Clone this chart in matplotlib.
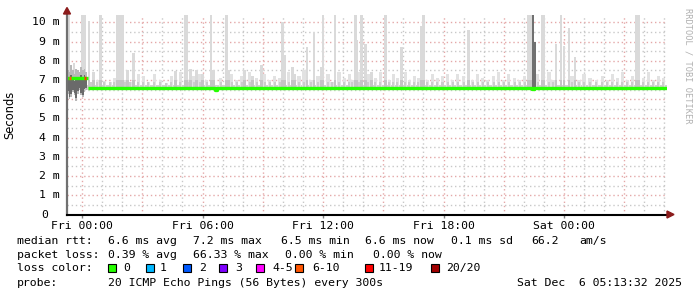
import matplotlib
matplotlib.use('Agg')
import matplotlib.pyplot as plt
from matplotlib.patches import Rectangle, Polygon
from matplotlib.transforms import blended_transform_factory

# ---------------- data (hours relative to Fri 00:00, values in ms) ----------------
x_range = [-0.75, 29.13]
y_max = 10.39

x_tick_hours = [0, 6, 12, 18, 24]
x_tick_labels = ["Fri 00:00", "Fri 06:00", "Fri 12:00", "Fri 18:00", "Sat 00:00"]
y_tick_values = [0, 1, 2, 3, 4, 5, 6, 7, 8, 9, 10]
y_tick_labels = ["0", "1 m", "2 m", "3 m", "4 m", "5 m", "6 m", "7 m", "8 m", "9 m", "10 m"]

# median rtt (step line)
median_hours = [-0.75, 0.28, 0.30, 6.55, 6.62, 6.70, 12.0, 16.9, 17.3, 22.43, 22.52, 29.13]
median_ms = [7.12, None, 6.57, 6.57, 6.48, 6.57, 6.58, 6.60, 6.58, 6.52, 6.58, 6.58]

# loss marks on the median line
loss_hours = [-0.60, 0.17]
loss_ms = [7.12, 7.12]
loss_cols = ["#ff5500", "#ff3300"]

# tall smoke spikes (tops of the ping spread)
spike_hours = [-0.72, -0.65, -0.40, -0.20, 0.0, 0.12, 0.35, 0.55, 0.90,
               1.75, 1.85, 2.02, 2.25, 2.55, 4.65,
               5.15, 5.22, 5.40, 5.70, 5.98, 6.42, 6.55, 7.2, 7.3,
               8.10, 8.5, 8.95, 10.0, 10.10, 10.5, 10.6,
               11.2, 11.55, 11.90, 12.0, 12.6,
               13.6, 13.65, 13.9, 14.1, 14.4, 15.1, 15.9,
               16.9, 17.0, 19.25, 22.25, 22.35, 22.95, 23.0,
               23.6, 23.85, 24.0, 24.25, 24.55, 27.6, 27.7]
spike_ms = [10.4, 10.4, 7.9, 7.5, 10.4, 10.4, 10.1, 7.4, 10.4,
            10.4, 10.4, 10.4, 7.5, 8.4, 7.45,
            10.4, 10.4, 7.6, 7.5, 7.3, 10.4, 7.5, 10.4, 7.5,
            7.5, 7.2, 7.8, 10.05, 8.3, 7.7, 7.3,
            8.7, 9.5, 7.7, 10.4, 10.4,
            10.4, 9.1, 10.4, 8.9, 7.4, 10.4, 8.7,
            9.8, 10.4, 9.6, 10.4, 10.4, 10.4, 10.4,
            8.9, 10.4, 8.8, 9.7, 8.2, 10.4, 10.4]

# low "hash" of the smoke around the median
low_hours = [0.45, 0.75, 1.1, 1.4, 1.6, 2.15, 2.4, 2.8, 3.05, 3.3, 3.6, 3.9, 4.2, 4.45,
             4.9, 5.3, 5.55, 5.85, 6.2, 6.9, 7.45, 7.7, 7.95, 8.35, 8.7, 9.1, 9.35,
             9.6, 9.85, 10.3, 10.8, 11.05, 11.4, 11.75, 12.25, 12.45, 12.8, 13.05,
             13.3, 13.45, 13.8, 14.25, 14.6, 14.85, 15.3, 15.5, 15.7, 16.1, 16.3,
             16.55, 16.75, 17.2, 17.45, 17.7, 17.95, 18.2, 18.45, 18.7, 19.0, 19.45,
             19.7, 19.95, 20.2, 20.5, 20.75, 21.0, 21.25, 21.55, 21.8, 22.05,
             22.7, 23.25, 23.45, 24.4, 24.75, 25.0, 25.3, 25.6, 25.9, 26.15, 26.4,
             26.65, 26.9, 27.15, 27.4, 27.95, 28.2, 28.45, 28.7, 28.95]
low_ms = [6.9, 7.0, 6.95, 6.9, 7.1, 7.0, 6.9, 7.3, 7.2, 6.9, 7.3, 7.0, 6.85, 7.2,
          7.4, 7.0, 7.2, 7.3, 7.0, 7.1, 7.3, 7.0, 7.2, 7.4, 7.1, 7.3, 7.0,
          7.2, 7.1, 7.4, 7.2, 7.5, 7.0, 7.2, 7.3, 6.9, 7.4, 7.1,
          7.3, 7.0, 7.4, 7.3, 7.1, 7.4, 7.0, 7.3, 7.1, 7.4, 7.0,
          7.2, 7.1, 7.0, 7.3, 7.1, 7.2, 7.3, 7.0, 7.3, 7.2, 7.0,
          7.3, 7.1, 7.0, 7.2, 7.4, 7.0, 7.3, 7.1, 7.0, 7.2,
          7.3, 7.4, 7.0, 7.2, 7.0, 7.3, 7.1, 7.0, 7.2, 7.0, 7.3,
          7.1, 7.4, 7.0, 7.2, 7.1, 7.4, 7.0, 7.2, 7.1]

# darker inner smoke (Sat 00:00 burst)
core_hours = [22.47, 22.56]
core_ms = [10.4, 9.0]

# beginning of the period: wide, dark smoke
start_hours = [-0.71, -0.63, -0.55, -0.46, -0.38, -0.30, -0.21, -0.13, -0.05, 0.04, 0.12, 0.21]
start_lo = [6.3, 6.0, 6.1, 6.4, 6.2, 5.9, 6.3, 6.5, 6.2, 6.1, 6.4, 6.5]
start_hi = [7.5, 7.4, 7.8, 7.5, 7.3, 7.6, 7.5, 7.4, 7.7, 7.5, 7.6, 7.4]

band_lo = 6.47
band_hi = 6.74

# legend
stats_rows = [
    ["median rtt:", "6.6 ms avg", "7.2 ms max", "6.5 ms min", "6.6 ms now", "0.1 ms sd", "66.2", "am/s"],
    ["packet loss:", "0.39 % avg", "66.33 % max", "0.00 % min", "0.00 % now"],
]
loss_labels = ["0", "1", "2", "3", "4-5", "6-10", "11-19", "20/20"]
loss_colors = ["#26ff00", "#00b8ff", "#0059ff", "#7e00ff", "#ff00ff", "#ff5500", "#ff0000", "#a10000"]
probe_text = "20 ICMP Echo Pings (56 Bytes) every 300s"
date_text = "Sat Dec  6 05:13:32 2025"

# ---------------- figure ----------------
W, H, DPI = 697, 297, 100
fig = plt.figure(figsize=(W / DPI, H / DPI), dpi=DPI, facecolor="white")

def fx(px):
    return px / W

def fy(py):
    return 1 - py / H

ax_l, ax_r, ax_t, ax_b = 67, 667, 15, 214.5
ax = fig.add_axes([fx(ax_l), fy(ax_b), (ax_r - ax_l) / W, (ax_b - ax_t) / H])
ax.set_facecolor("white")
ax.set_xlim(*x_range)
ax.set_ylim(0, y_max)

MONO = "DejaVu Sans Mono"
FS = 8.25

# grid
minor_col = "#c8c8c8"
major_col = "#e4a8a8"
for hr in range(0, 30):
    col = major_col if hr % 3 == 0 else minor_col
    ax.axvline(hr, color=col, lw=1, ls=(0, (1, 2)), zorder=0.5)
for k in range(1, 21):
    v = k * 0.5
    col = major_col if k % 2 == 0 else minor_col
    ax.axhline(v, color=col, lw=1, ls=(0, (1, 2)), zorder=0.5)

# smoke
ax.fill_between(x_range, band_lo, band_hi, color="#d2d2d2", lw=0, zorder=1)
ax.bar(low_hours, [t - band_lo for t in low_ms], bottom=band_lo, width=0.16,
       color="#e2e2e2", lw=0, zorder=1.1)
ax.bar(low_hours, [min(t, 6.9) - band_lo for t in low_ms], bottom=band_lo, width=0.1,
       color="#cccccc", lw=0, zorder=1.15)
ax.bar(spike_hours, [t - band_lo for t in spike_ms], bottom=band_lo, width=0.14,
       color="#dadada", lw=0, zorder=1.2)
ax.bar(spike_hours, [min(t, 7.0) - band_lo for t in spike_ms], bottom=band_lo, width=0.14,
       color="#c4c4c4", lw=0, zorder=1.3)
ax.bar(core_hours, [t - band_lo for t in core_ms], bottom=band_lo, width=0.1,
       color="#707070", lw=0, zorder=1.4)
ax.bar(start_hours, [hi - lo for lo, hi in zip(start_lo, start_hi)], bottom=start_lo,
       width=0.085, color="#b8b8b8", lw=0, zorder=1.2)
ax.bar(start_hours, [(hi - lo) * 0.6 for lo, hi in zip(start_lo, start_hi)],
       bottom=[lo + (hi - lo) * 0.1 for lo, hi in zip(start_lo, start_hi)],
       width=0.085, color="#6a6a6a", lw=0, zorder=1.3)

# median line
segs = []
cur_x, cur_y = [], []
for i in range(len(median_hours) - 1):
    if median_ms[i] is None:
        segs.append((cur_x, cur_y))
        cur_x, cur_y = [], []
        continue
    cur_x += [median_hours[i], median_hours[i + 1]]
    cur_y += [median_ms[i], median_ms[i]]
segs.append((cur_x, cur_y))
for sx, sy in segs:
    ax.plot(sx, sy, color="#26ff00", lw=2.4, zorder=3, solid_capstyle="butt")
for hh, mm, cc in zip(loss_hours, loss_ms, loss_cols):
    ax.plot([hh - 0.05, hh + 0.05], [mm, mm], color=cc, lw=2.4, zorder=3.1, solid_capstyle="butt")

# axes / spines
for s in ["top", "right"]:
    ax.spines[s].set_visible(False)
ax.spines["left"].set_color("#707070")
ax.spines["left"].set_linewidth(1.6)
ax.spines["bottom"].set_color("black")
ax.spines["bottom"].set_linewidth(1.5)
ax.spines["left"].set_zorder(5)
ax.spines["bottom"].set_zorder(5)

ax.set_xticks(x_tick_hours)
ax.set_xticklabels(x_tick_labels, fontfamily=MONO, fontsize=FS)
ax.tick_params(axis="x", length=2, width=1, color="#808080", pad=3)
ax.set_yticks([])
tr = blended_transform_factory(ax.transAxes, ax.transData)
for v, lab in zip(y_tick_values, y_tick_labels):
    xoff = -7 / 600 if lab != "0" else -19 / 600
    ax.text(xoff, v, lab, transform=tr, ha="right", va="center",
            fontfamily=MONO, fontsize=FS, color="black")

# arrows
fig.add_artist(Polygon([[fx(63.5), fy(14)], [fx(70.5), fy(14)], [fx(67), fy(7.5)]],
                       closed=True, color="#8b1c1c", transform=fig.transFigure))
fig.add_artist(Polygon([[fx(667), fy(211)], [fx(667), fy(218)], [fx(674), fy(214.5)]],
                       closed=True, color="#8b1c1c", transform=fig.transFigure))

# axis label and watermark
fig.text(fx(10), fy(115), "Seconds", rotation=90, ha="center", va="center",
         fontfamily="DejaVu Sans", fontsize=8.3)
fig.text(fx(688), fy(8), "RRDTOOL / TOBI OETIKER", rotation=270, ha="center", va="top",
         fontfamily=MONO, fontsize=6.2, color="#b0b0b0")

# legend text
row1_x = [17, 108, 193, 281, 365, 451, 531, 579]
row2_x = [17, 108, 193, 285, 373]
for txt, x in zip(stats_rows[0], row1_x):
    fig.text(fx(x), fy(241), txt, ha="left", va="center", fontfamily=MONO, fontsize=FS)
for txt, x in zip(stats_rows[1], row2_x):
    fig.text(fx(x), fy(255), txt, ha="left", va="center", fontfamily=MONO, fontsize=FS)

fig.text(fx(17), fy(268), "loss color:", ha="left", va="center", fontfamily=MONO, fontsize=FS)
sq_x = [108, 146, 183, 219, 256, 295, 365, 431]
lab_x = [123, 160, 199, 235, 272, 312, 379, 446]
for sx, lx, lab, col in zip(sq_x, lab_x, loss_labels, loss_colors):
    fig.add_artist(Rectangle((fx(sx), fy(272)), 8 / W, 8 / H, facecolor=col,
                             edgecolor="black", lw=0.8, transform=fig.transFigure))
    fig.text(fx(lx), fy(268), lab, ha="left", va="center", fontfamily=MONO, fontsize=FS)

fig.text(fx(17), fy(283), "probe:", ha="left", va="center", fontfamily=MONO, fontsize=FS)
fig.text(fx(108), fy(283), probe_text, ha="left", va="center", fontfamily=MONO, fontsize=FS)
fig.text(fx(682), fy(283), date_text, ha="right", va="center", fontfamily=MONO, fontsize=FS)

fig.savefig("out.png", dpi=DPI, facecolor="white")
